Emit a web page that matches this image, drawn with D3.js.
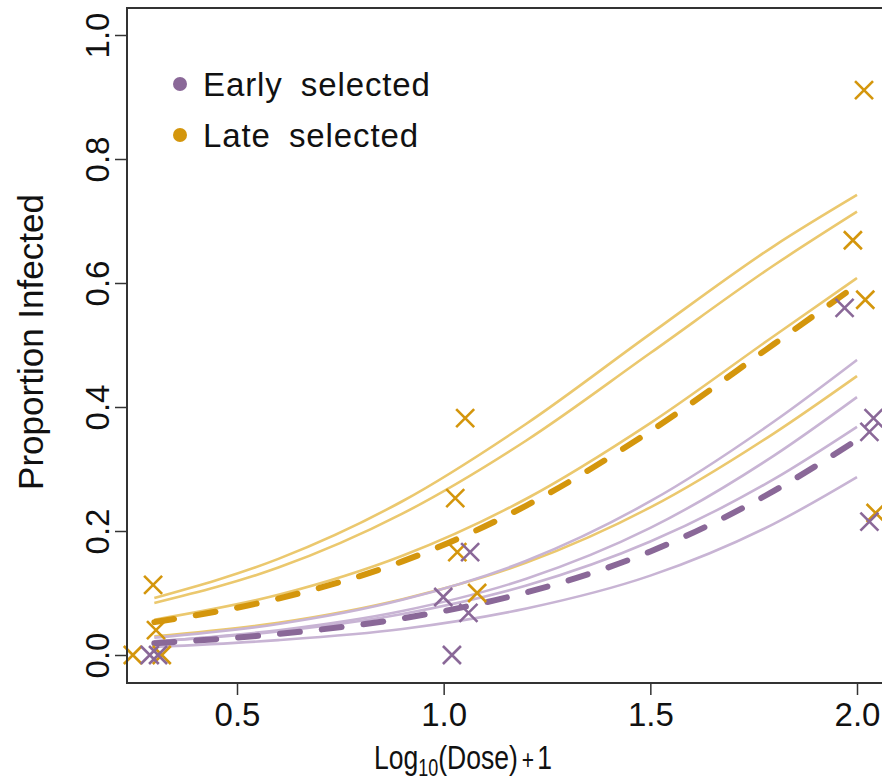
<!DOCTYPE html>
<html>
<head>
<meta charset="utf-8">
<script src="https://cdn.jsdelivr.net/npm/d3@7"></script>
<style>
  body { margin: 0; background: #fff; }
  svg { display: block; font-family: "Liberation Sans", Arial, sans-serif; }
</style>
</head>
<body>
<div id="chart"></div>
<script>
// Fitted curves at these doses
const curveX = [0.3, 0.6, 0.9, 1.2, 1.5, 1.8, 2.0];
const lateFit = [0.053, 0.091, 0.151, 0.241, 0.361, 0.502, 0.597];
const lateReps = [
    [0.092, 0.155, 0.248, 0.373, 0.518, 0.660, 0.742],
    [0.084, 0.141, 0.228, 0.346, 0.487, 0.629, 0.715],
    [0.057, 0.097, 0.160, 0.252, 0.374, 0.515, 0.608],
    [0.030, 0.052, 0.090, 0.149, 0.238, 0.358, 0.450]
];
const earlyFit = [0.019, 0.034, 0.059, 0.101, 0.167, 0.265, 0.347];
const earlyReps = [
    [0.028, 0.050, 0.089, 0.152, 0.248, 0.377, 0.476],
    [0.022, 0.040, 0.071, 0.123, 0.205, 0.322, 0.416],
    [0.022, 0.038, 0.066, 0.112, 0.183, 0.284, 0.368],
    [0.013, 0.024, 0.042, 0.075, 0.128, 0.212, 0.287]
];

// Observed proportions (crosses)
const lateX = [0.297, 0.304, 0.248, 0.318, 1.052, 1.028, 1.033, 1.081, 2.017, 1.99, 2.02, 2.045];
const lateY = [0.113, 0.040, 0.0, 0.0, 0.382, 0.253, 0.166, 0.100, 0.911, 0.669, 0.573, 0.229];
const earlyX = [0.289, 0.309, 0.999, 1.02, 1.064, 1.06, 1.97, 2.04, 2.03, 2.03];
const earlyY = [0.0, 0.0, 0.0935, 0.0, 0.166, 0.068, 0.56, 0.382, 0.36, 0.215];

const xTicks = [0.5, 1.0, 1.5, 2.0];
const yTicks = [0.0, 0.2, 0.4, 0.6, 0.8, 1.0];
const groups = ["Early selected", "Late selected"];

const width = 882, height = 782;
const boxL = 127, boxT = 8, boxB = 683, boxR = 900;

const purple = "#8a6898", purpleLight = "#c8b4d4";
const gold = "#d4960c", goldLight = "#ebc86e";

const svg = d3.select("#chart").append("svg")
    .attr("width", width)
    .attr("height", height);

const x = d3.scaleLinear().domain([0.5, 2.0]).range([237, 857]);
const y = d3.scaleLinear().domain([0, 1]).range([655, 35]);

const line = d3.line()
    .x(d => x(d[0]))
    .y(d => y(d[1]))
    .curve(d3.curveMonotoneX);

const pts = vals => curveX.map((v, i) => [v, vals[i]]);

// thin replicate lines
lateReps.concat(earlyReps).forEach((r, i) => {
    svg.append("path")
        .attr("d", line(pts(r)))
        .attr("fill", "none")
        .attr("stroke", i < lateReps.length ? goldLight : purpleLight)
        .attr("stroke-width", 2.6);
});

// dashed fits
[[lateFit, gold], [earlyFit, purple]].forEach(([f, c]) => {
    svg.append("path")
        .attr("d", line(pts(f)))
        .attr("fill", "none")
        .attr("stroke", c)
        .attr("stroke-width", 6)
        .attr("stroke-linecap", "round")
        .attr("stroke-dasharray", "20,22");
});

// crosses
function crosses(xs, ys, c) {
    const s = 9;
    xs.forEach((v, i) => {
        const cx = x(v), cy = y(ys[i]);
        svg.append("path")
            .attr("d", `M${cx - s},${cy - s}L${cx + s},${cy + s}M${cx - s},${cy + s}L${cx + s},${cy - s}`)
            .attr("stroke", c)
            .attr("stroke-width", 2.6)
            .attr("fill", "none");
    });
}
crosses(lateX, lateY, gold);
crosses(earlyX, earlyY, purple);

// plot frame
svg.append("path")
    .attr("d", `M${boxR},${boxT}H${boxL}V${boxB}H${boxR}`)
    .attr("fill", "none")
    .attr("stroke", "#333")
    .attr("stroke-width", 2);

// axes
const xAxis = svg.append("g")
    .attr("transform", `translate(0,${boxB})`)
    .call(d3.axisBottom(x).tickValues(xTicks).tickFormat(d3.format(".1f")).tickSize(12).tickPadding(8));
xAxis.select(".domain").remove();
xAxis.selectAll("line").attr("stroke", "#333").attr("stroke-width", 1.5);
xAxis.selectAll("text").attr("font-size", 33).attr("fill", "#111")
    .attr("font-family", "Liberation Sans, Arial, sans-serif");

const yAxis = svg.append("g")
    .attr("transform", `translate(${boxL},0)`)
    .call(d3.axisLeft(y).tickValues(yTicks).tickFormat(d3.format(".1f")).tickSize(12).tickPadding(0));
yAxis.select(".domain").remove();
yAxis.selectAll("line").attr("stroke", "#333").attr("stroke-width", 1.5);
yAxis.selectAll("text")
    .attr("font-size", 33).attr("fill", "#111")
    .attr("font-family", "Liberation Sans, Arial, sans-serif")
    .attr("text-anchor", "middle")
    .attr("x", null).attr("dy", null)
    .attr("transform", "translate(-18,0) rotate(-90)");

// axis titles (x title is narrow in the original)
const xt = svg.append("text")
    .attr("transform", "translate(463,769) scale(0.78,1)")
    .attr("text-anchor", "middle")
    .attr("font-size", 34).attr("fill", "#111");
xt.append("tspan").text("Log");
xt.append("tspan").attr("font-size", 23).attr("dy", 7).text("10");
xt.append("tspan").attr("dy", -7).text("(Dose)");
xt.append("tspan").attr("font-size", 27).attr("dx", 5).text("+");
xt.append("tspan").attr("dx", 4).text("1");

svg.append("text")
    .attr("transform", "translate(43,342) rotate(-90)")
    .attr("text-anchor", "middle")
    .attr("font-size", 35).attr("fill", "#111")
    .text("Proportion Infected");

// legend
groups.forEach((g, i) => {
    const ly = 84 + i * 51;
    svg.append("circle")
        .attr("cx", 180).attr("cy", ly).attr("r", 7)
        .attr("fill", i === 0 ? purple : gold);
    svg.append("text")
        .attr("x", 203).attr("y", ly + 12)
        .attr("font-size", 33).attr("fill", "#111")
        .attr("letter-spacing", 0.9)
        .attr("word-spacing", 8)
        .text(g);
});
</script>
</body>
</html>
